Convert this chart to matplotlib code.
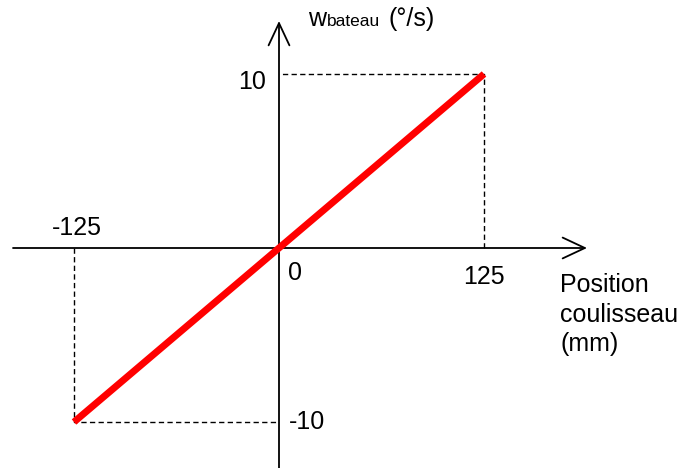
import matplotlib
matplotlib.use("Agg")
import matplotlib.pyplot as plt

plt.rcParams['font.family'] = ['Liberation Sans', 'DejaVu Sans']

# ---- data ----
position_mm = [-125, 125]          # Position coulisseau (mm)
omega_deg_s = [-10, 10]            # w_bateau (°/s)
x_tick_labels = ["-125", "0", "125"]
y_tick_labels = ["10", "-10"]
x_label_lines = ["Position", "coulisseau", "(mm)"]

W, H = 699, 468
fig = plt.figure(figsize=(W / 100, H / 100), dpi=100)
ax = fig.add_axes([0, 0, 1, 1])
ax.set_axis_off()

# pixel mapping of the data frame
x0, sx = 279.0, 205.0 / 125.0
y0, sy = 248.0, 174.0 / 10.0
ax.set_xlim(-x0 / sx, (W - x0) / sx)
ax.set_ylim(-(H - y0) / sy, y0 / sy)

def px2x(p):
    return (p - x0) / sx

def py2y(p):
    return (y0 - p) / sy

# axes with open arrowheads
arrow = dict(arrowstyle='->,head_length=1.6,head_width=0.75', lw=1.3,
             color='black', shrinkA=0, shrinkB=0, mutation_scale=10)
ax.annotate('', xy=(px2x(587), 0), xytext=(px2x(13), 0), arrowprops=arrow)
ax.annotate('', xy=(0, py2y(21)), xytext=(0, py2y(475)), arrowprops=arrow)

# dashed guides
dash = dict(color='black', lw=1.0, ls=(0, (3.8, 2.4)))
xmin, xmax = position_mm
ymin, ymax = omega_deg_s
ax.plot([xmax, xmax, 0], [0, ymax, ymax], **dash)
ax.plot([xmin, xmin, 0], [0, ymin, ymin], **dash)

# red characteristic
ax.plot(position_mm, omega_deg_s, color='#ff0000', lw=5, solid_capstyle='butt', zorder=5)

fs = 18
# tick labels
ax.annotate(y_tick_labels[0], xy=(0, ymax), xytext=(-13, -8), textcoords='offset pixels',
            ha='right', va='center', fontsize=fs)
ax.annotate(y_tick_labels[1], xy=(0, ymin), xytext=(10, 0), textcoords='offset pixels',
            ha='left', va='center', fontsize=fs)
ax.annotate(x_tick_labels[0], xy=(xmin, 0), xytext=(3, 13), textcoords='offset pixels',
            ha='center', va='baseline', fontsize=fs)
ax.annotate(x_tick_labels[1], xy=(0, 0), xytext=(9, -32), textcoords='offset pixels',
            ha='left', va='baseline', fontsize=fs)
ax.annotate(x_tick_labels[2], xy=(xmax, 0), xytext=(0, -36), textcoords='offset pixels',
            ha='center', va='baseline', fontsize=fs)

# axis labels
for line, base in zip(x_label_lines, [292, 322, 351]):
    fig.text(560 / W, 1 - base / H, line, ha='left', va='baseline', fontsize=fs)
fig.text(308 / W, 1 - 26 / H, "w", ha='left', va='baseline', fontsize=18)
fig.text(327 / W, 1 - 26 / H, "bateau", ha='left', va='baseline', fontsize=12.5)
fig.text(388 / W, 1 - 26 / H, "(°/s)", ha='left', va='baseline', fontsize=fs)

fig.savefig("out.png", dpi=100)
